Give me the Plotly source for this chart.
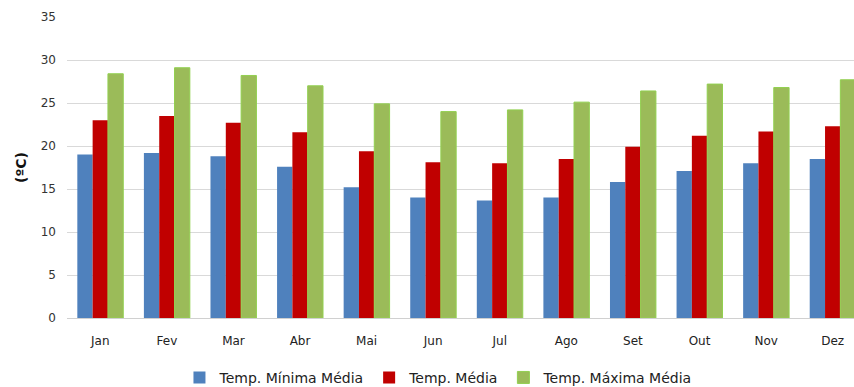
import plotly.graph_objects as go

meses = ["Jan", "Fev", "Mar", "Abr", "Mai", "Jun", "Jul", "Ago", "Set", "Out", "Nov", "Dez"]
temp_minima = [19.0, 19.2, 18.8, 17.6, 15.2, 14.0, 13.65, 14.0, 15.8, 17.1, 18.0, 18.5]
temp_media = [23.0, 23.5, 22.7, 21.6, 19.4, 18.1, 18.0, 18.5, 19.9, 21.2, 21.7, 22.3]
temp_maxima = [28.4, 29.1, 28.2, 27.0, 24.9, 24.0, 24.2, 25.1, 26.4, 27.2, 26.8, 27.7]

font_family = "DejaVu Sans"

fig = go.Figure()
fig.add_trace(go.Bar(x=meses, y=temp_minima, name="Temp. Mínima Média",
                     marker=dict(color="#4f81bd", line=dict(width=0))))
fig.add_trace(go.Bar(x=meses, y=temp_media, name="Temp. Média",
                     marker=dict(color="#c00000", line=dict(width=0))))
fig.add_trace(go.Bar(x=meses, y=temp_maxima, name="Temp. Máxima Média",
                     marker=dict(color="#9bbb59", line=dict(color="#92d050", width=1))))

fig.update_layout(
    width=854, height=387,
    margin=dict(l=67, r=0, t=17, b=69, autoexpand=False),
    paper_bgcolor="white", plot_bgcolor="white",
    barmode="group", bargap=0.31, bargroupgap=0,
    font=dict(family=font_family, size=12, color="#333333"),
    showlegend=True,
    legend=dict(orientation="h", x=0.472, xanchor="center",
                yref="container", y=0.065, yanchor="top",
                font=dict(family=font_family, size=14, color="#222222"),
                itemwidth=30, tracegroupgap=0, traceorder="normal"),
    xaxis=dict(range=[-0.5, 11.32], showgrid=False, showline=True, linecolor="#d0d0d0",
               linewidth=1, ticks="", ticklabelstandoff=12,
               tickfont=dict(size=12, color="#222222")),
    yaxis=dict(range=[0, 35], dtick=5, showgrid=True, gridcolor="#d9d9d9", gridwidth=1,
               zeroline=False, showline=False, ticks="", ticklabelstandoff=10,
               tickfont=dict(size=12, color="#333333"),
               title=dict(text="<b>(ºC)</b>", font=dict(size=14, color="#111111", family=font_family),
                          standoff=10)),
)

fig.write_html("out.html")
